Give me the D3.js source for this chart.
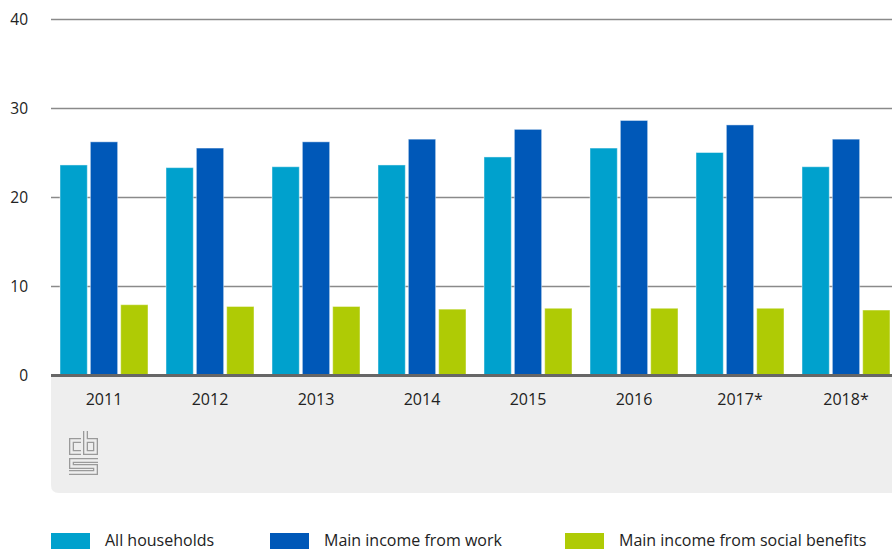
<!DOCTYPE html>
<html>
<head>
<meta charset="utf-8">
<script src="https://cdn.jsdelivr.net/npm/d3@7"></script>
<style>
  body { margin: 0; background: #fff; }
  svg { display: block; font-family: "Open Sans", sans-serif; }
</style>
</head>
<body>
<svg id="chart" width="892" height="549"></svg>
<script>
// values
var years = ["2011", "2012", "2013", "2014", "2015", "2016", "2017*", "2018*"];
var allHouseholds = [23.6, 23.3, 23.4, 23.6, 24.5, 25.5, 25.0, 23.4];
var fromWork = [26.2, 25.5, 26.2, 26.5, 27.6, 28.6, 28.1, 26.5];
var fromBenefits = [7.9, 7.7, 7.7, 7.4, 7.5, 7.5, 7.5, 7.3];
var seriesNames = ["All households", "Main income from work", "Main income from social benefits"];
var seriesColors = ["#00a1cd", "#0058b8", "#afcb05"];
var yTicks = [0, 10, 20, 30, 40];

var svg = d3.select("#chart");
var left = 51, right = 892, base = 375;

var y = d3.scaleLinear().domain([0, 40]).range([base, 19]);
var x0 = d3.scaleBand().domain(years).range([left, left + 106 * years.length]);
var x1 = d3.scaleBand().domain(seriesNames).range([9, 97]).paddingInner(0.1);

// grey box under the axis
svg.append("path")
    .attr("d", "M" + left + "," + base + " H" + right + " V493 H" + (left + 8) +
        " Q" + left + ",493 " + left + ",485 Z")
    .attr("fill", "#eeeeee");

// gridlines
svg.append("g")
    .selectAll("line")
    .data(yTicks.filter(function(d) { return d > 0; }))
    .enter().append("line")
    .attr("x1", left).attr("x2", right)
    .attr("y1", function(d) { return Math.round(y(d)) + 0.5; })
    .attr("y2", function(d) { return Math.round(y(d)) + 0.5; })
    .attr("stroke", "#8a8a8a")
    .attr("stroke-width", 1.4);

// y labels
svg.append("g")
    .selectAll("text")
    .data(yTicks)
    .enter().append("text")
    .attr("x", 28)
    .attr("y", function(d) { return y(d) + 5.5; })
    .attr("text-anchor", "end")
    .attr("font-size", 15.5)
    .attr("fill", "#222")
    .text(function(d) { return d; });

// bars
var rows = years.map(function(yr, i) {
    return { year: yr, vals: [allHouseholds[i], fromWork[i], fromBenefits[i]] };
});

var grp = svg.append("g")
    .selectAll("g")
    .data(rows)
    .enter().append("g")
    .attr("transform", function(d) { return "translate(" + x0(d.year) + ",0)"; });

grp.selectAll("rect")
    .data(function(d) {
        return d.vals.map(function(v, j) { return { name: seriesNames[j], value: v, color: seriesColors[j] }; });
    })
    .enter().append("rect")
    .attr("x", function(d) { return x1(d.name); })
    .attr("width", x1.bandwidth())
    .attr("y", function(d) { return y(d.value); })
    .attr("height", function(d) { return base - y(d.value); })
    .attr("fill", function(d) { return d.color; })
    .attr("stroke", "rgba(255,255,255,0.45)")
    .attr("stroke-width", 1);

// axis baseline
svg.append("line")
    .attr("x1", left).attr("x2", right)
    .attr("y1", base + 0.5).attr("y2", base + 0.5)
    .attr("stroke", "#666")
    .attr("stroke-width", 3);

// year labels
svg.append("g")
    .selectAll("text")
    .data(years)
    .enter().append("text")
    .attr("x", function(d) { return x0(d) + x0.bandwidth() / 2; })
    .attr("y", 405)
    .attr("text-anchor", "middle")
    .attr("font-size", 16)
    .attr("fill", "#222")
    .text(function(d) { return d; });

// cbs logo, drawn as outlined thick strokes
var logo = svg.append("g").attr("transform", "translate(69,431)");
var logoPaths = [
    "M12,9.5 H2.5 V21.5 H12",
    "M16.5,0 V21.5 H26.5 V9.5 H16.5",
    "M29,29.5 H2.5 V35.5 H26.5 V41.5 H0"
];
logo.selectAll("path.o").data(logoPaths).enter().append("path")
    .attr("d", function(d) { return d; })
    .attr("fill", "none").attr("stroke", "#9a9a9a").attr("stroke-width", 5);
logo.selectAll("path.i").data(logoPaths).enter().append("path")
    .attr("d", function(d) { return d; })
    .attr("fill", "none").attr("stroke", "#eeeeee").attr("stroke-width", 2.4);

// legend
var legendX = [51, 270, 565];
var leg = svg.append("g")
    .selectAll("g")
    .data(seriesNames)
    .enter().append("g")
    .attr("transform", function(d, i) { return "translate(" + legendX[i] + ",533)"; });
leg.append("rect")
    .attr("width", 39).attr("height", 16)
    .attr("fill", function(d, i) { return seriesColors[i]; });
leg.append("text")
    .attr("x", 54).attr("y", 12.5)
    .attr("font-size", 16)
    .attr("fill", "#222")
    .text(function(d) { return d; });
</script>
</body>
</html>
